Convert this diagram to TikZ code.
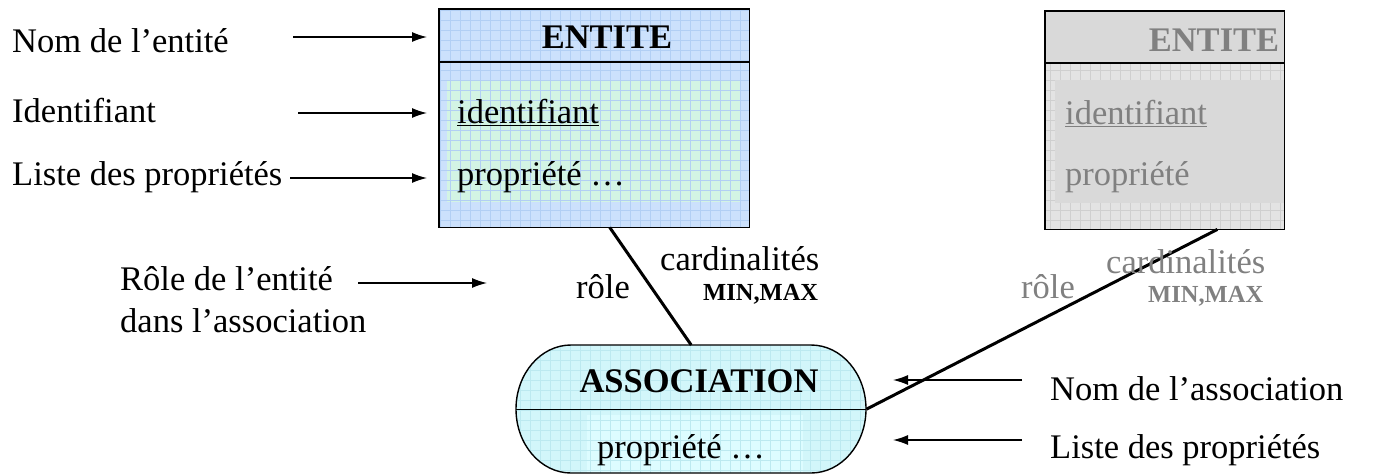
\documentclass[tikz,border=0pt]{standalone}
\usepackage{fontspec}
\setmainfont{Liberation Serif}
\usetikzlibrary{arrows.meta,calc}
\definecolor{bluefill}{HTML}{CCE1FC}
\definecolor{bluegrid}{HTML}{B2CFF4}
\definecolor{greenfill}{HTML}{D3F4E4}
\definecolor{grayhead}{HTML}{D9D9D9}
\definecolor{graybody}{HTML}{E3E3E3}
\definecolor{graygrid}{HTML}{CFCFCF}
\definecolor{grayinner}{HTML}{D9D9D9}
\definecolor{cyanfill}{HTML}{D2F6FA}
\definecolor{cyangrid}{HTML}{BCE9F0}
\definecolor{cyaninner}{HTML}{DDFCFF}
\definecolor{graytext}{HTML}{808080}
\begin{document}
\begin{tikzpicture}[x=1pt,y=-1pt,
  lbl/.style={anchor=base west, inner sep=0pt, font=\fontsize{34.5}{40}\selectfont},
  ctr/.style={anchor=base, inner sep=0pt, font=\fontsize{34.5}{40}\selectfont\bfseries},
  small/.style={anchor=base west, inner sep=0pt, font=\fontsize{24.5}{28}\selectfont\bfseries},
  ptr/.style={line width=1.3pt, -{Latex[length=15pt,width=10pt]}},
  link/.style={line width=3pt},
  boxline/.style={line width=1.4pt},
  stadium/.style={insert path={(571,345) -- (811,345) arc[start angle=90, end angle=-90, x radius=55pt, y radius=64pt] -- (571,473) arc[start angle=-90, end angle=-270, x radius=55pt, y radius=64pt] -- cycle}}]
\useasboundingbox (0,0) rectangle (1392,475);

% ---------- blue entity ----------
\node[fill=bluefill, minimum width=310pt, minimum height=218pt, anchor=north west, inner sep=0pt] (ent1) at (439,9) {};
\fill[greenfill] (447,80) rectangle (741,202);
\begin{scope}
  \clip (439,9) rectangle (749,227);
  \draw[bluegrid, line width=0.5pt, step=10pt] (439,9) grid (749,227);
\end{scope}
\draw[boxline] (ent1.south west) rectangle (ent1.north east);
\draw[boxline] (439,62) -- (749,62);
\node[ctr] (e1name) at (607,48) {ENTITE};
\node[lbl] (e1id) at (457,123) {\underline{identifiant}};
\node[lbl] (e1prop) at (457,185) {propriété …};

% ---------- gray entity ----------
\node[fill=graybody, minimum width=239pt, minimum height=218pt, anchor=north west, inner sep=0pt] (ent2) at (1045,11) {};
\fill[grayhead] (1045,11) rectangle (1284,63);
\begin{scope}
  \clip (1045,63) rectangle (1284,229);
  \draw[graygrid, line width=0.5pt, step=10pt] (1045,63) grid (1284,229);
\end{scope}
\fill[grayinner] (1055,80) rectangle (1284,203);
\draw[boxline] (ent2.south west) rectangle (ent2.north east);
\draw[boxline] (1045,63) -- (1284,63);
\node[ctr, text=graytext] (e2name) at (1214,51) {ENTITE};
\node[lbl, text=graytext] (e2id) at (1065,124) {\underline{identifiant}};
\node[lbl, text=graytext] (e2prop) at (1065,185) {propriété};

% ---------- association ----------
\node[minimum width=350pt, minimum height=128pt, anchor=north west, inner sep=0pt] (asso) at (516,345) {};
\fill[cyanfill, stadium];
\begin{scope}
  \clip[stadium];
  \fill[cyaninner] (587,415) rectangle (803,473);
  \draw[cyangrid, line width=0.5pt, step=10pt] (516,345) grid (866,473);
\end{scope}
\draw[boxline, stadium];
\draw[boxline] (asso.west) -- (asso.east);
\node[ctr] (aname) at (699,392) {ASSOCIATION};
\node[lbl] (aprop) at (597,458) {propriété …};

% ---------- links ----------
\draw[link] ($(ent1.south west)!0.55!(ent1.south east)$) -- (asso.north);
\draw[link] ($(ent2.south west)!0.72!(ent2.south east)$) -- (asso.east);

\node[lbl] (role1) at (576,298) {rôle};
\node[lbl] (card1) at (660,270) {cardinalités};
\node[small] (mm1) at (703,300) {MIN,MAX};
\node[lbl, text=graytext] (role2) at (1021,298) {rôle};
\node[lbl, text=graytext] (card2) at (1106,273) {cardinalités};
\node[small, text=graytext] (mm2) at (1148,302) {MIN,MAX};

% ---------- left legend ----------
\node[lbl] (l1) at (12,52) {Nom de l’entité};
\node[lbl] (l2) at (12,122) {Identifiant};
\node[lbl] (l3) at (12,185) {Liste des propriétés};
\node[lbl] (l4) at (120,290) {Rôle de l’entité};
\node[lbl] (l5) at (120,332) {dans l’association};
\coordinate (s1) at (293,37);  \coordinate (t1) at (427,37);
\coordinate (s2) at (298,113); \coordinate (t2) at (427,113);
\coordinate (s3) at (290,178); \coordinate (t3) at (427,178);
\coordinate (s4) at (358,283); \coordinate (t4) at (487,283);
\draw[ptr] (s1) -- (t1);
\draw[ptr] (s2) -- (t2);
\draw[ptr] (s3) -- (t3);
\draw[ptr] (s4) -- (t4);

% ---------- right legend ----------
\node[lbl] (r1) at (1050,400) {Nom de l’association};
\node[lbl] (r2) at (1050,458) {Liste des propriétés};
\coordinate (s5) at (1022,380); \coordinate (t5) at (893,380);
\coordinate (s6) at (1022,440); \coordinate (t6) at (893,440);
\draw[ptr] (s5) -- (t5);
\draw[ptr] (s6) -- (t6);
\end{tikzpicture}
\end{document}
